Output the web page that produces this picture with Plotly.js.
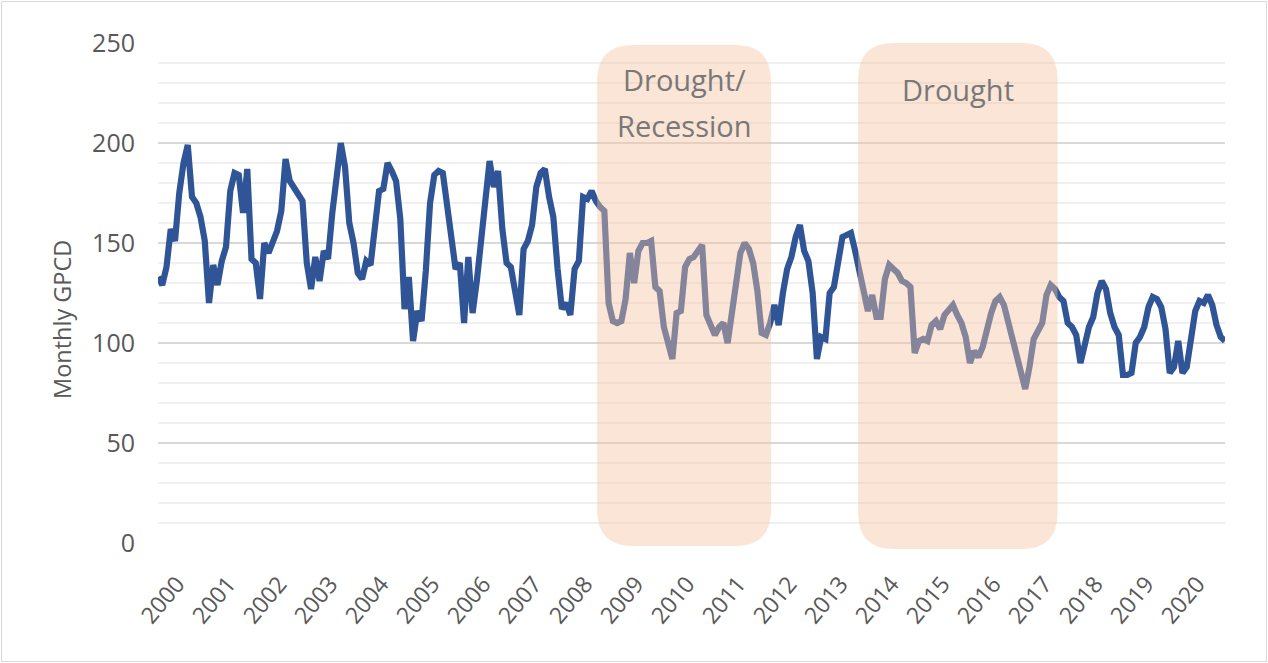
<!DOCTYPE html>
<html>
<head>
<meta charset="utf-8">
<script src="https://cdn.plot.ly/plotly-3.0.1.min.js"></script>
<style>
  html, body { margin: 0; padding: 0; background: #ffffff; }
  #wrap { position: relative; width: 1268px; height: 663px; }
  #chart { position: absolute; left: 0; top: 0; width: 1268px; height: 663px; }
  #frame { position: absolute; left: 1px; top: 1px; width: 1264px; height: 659px; border: 1px solid #d9d9d9; pointer-events: none; }
</style>
</head>
<body>
<div id="wrap"><div id="chart"></div><div id="frame"></div></div>
<script>
// Monthly GPCD, Jan..Dec of each year
const yearLabels = ["2000","2001","2002","2003","2004","2005","2006","2007","2008","2009","2010",
                    "2011","2012","2013","2014","2015","2016","2017","2018","2019","2020"];
const gpcd2000 = [133,129,138,157,151,175,190,199,173,170,163,151];
const gpcd2001 = [120,139,129,141,148,176,185,184,165,187,142,140];
const gpcd2002 = [122,150,145,151,156,166,192,181,178,175,171,140];
const gpcd2003 = [127,143,131,146,142,165,186,200,188,160,150,135];
const gpcd2004 = [132,141,139,161,176,177,190,186,181,162,117,133];
const gpcd2005 = [101,116,111,136,170,184,186,185,168,148,137,140];
const gpcd2006 = [110,143,115,131,151,175,191,178,186,157,140,138];
const gpcd2007 = [126,114,147,151,159,178,185,187,173,163,137,117];
const gpcd2008 = [120,114,137,141,173,172,176,171,168,166,120,111];
const gpcd2009 = [110,111,122,145,130,146,150,150,151,128,126,108];
const gpcd2010 = [100,92,115,116,138,142,143,146,149,114,108,104];
const gpcd2011 = [108,110,100,118,130,145,150,147,140,126,105,104];
const gpcd2012 = [110,119,109,125,137,143,153,159,146,141,125,92];
const gpcd2013 = [103,102,125,128,140,153,154,155,146,135,123,116];
const gpcd2014 = [124,113,113,132,139,137,135,131,130,128,95,101];
const gpcd2015 = [102,101,109,111,107,114,116,119,114,110,103,90];
const gpcd2016 = [96,93,98,108,115,121,123,119,110,104,94,85];
const gpcd2017 = [77,88,102,106,110,124,129,127,123,121,110,108];
const gpcd2018 = [104,90,101,108,113,125,131,127,115,108,104,84];
const gpcd2019 = [84,85,100,103,108,118,123,122,118,107,85,88];
const gpcd2020 = [101,85,88,104,116,121,120,124,119,109,103,101];

// Shaded periods (in month index from Jan 2000)
const periodLabels = [["Drought/", "Recession"], ["Drought"]];
const periodStart = [103.3, 164.7];
const periodEnd = [144.2, 211.6];

const values = [].concat(gpcd2000,gpcd2001,gpcd2002,gpcd2003,gpcd2004,gpcd2005,gpcd2006,
  gpcd2007,gpcd2008,gpcd2009,gpcd2010,gpcd2011,gpcd2012,gpcd2013,gpcd2014,gpcd2015,
  gpcd2016,gpcd2017,gpcd2018,gpcd2019,gpcd2020);
const xIdx = values.map((_, i) => i);

const W = 1268, H = 663;
const margin = {l: 158, r: 43, t: 43, b: 120};
const plotW = W - margin.l - margin.r;
const plotH = H - margin.t - margin.b;
const xMax = values.length - 1;
const pxPerMonth = plotW / xMax;
const pxToPaperY = py => (H - margin.b - py) / plotH;

function roundedRect(x0, x1, y0, y1, rx, ry) {
  return `M ${x0+rx},${y0} L ${x1-rx},${y0} Q ${x1},${y0} ${x1},${y0+ry} ` +
         `L ${x1},${y1-ry} Q ${x1},${y1} ${x1-rx},${y1} L ${x0+rx},${y1} ` +
         `Q ${x0},${y1} ${x0},${y1-ry} L ${x0},${y0+ry} Q ${x0},${y0} ${x0+rx},${y0} Z`;
}
const rPx = 36;
const rx = rPx / pxPerMonth, ry = rPx / plotH;
const bottoms = [-0.006, -0.012];
const tops = [0.996, 1.0];

const shapes = periodStart.map((s, i) => ({
  type: 'path', xref: 'x', yref: 'paper', layer: 'above',
  path: roundedRect(s, periodEnd[i], bottoms[i], tops[i], rx, ry),
  fillcolor: 'rgba(246,195,160,0.43)', line: {width: 0}
}));

// text line centres, in pixels from top
const linePx = [[80, 125], [90]];
const annotations = [];
periodLabels.forEach((lines, i) => {
  lines.forEach((t, j) => {
    annotations.push({
      text: t, x: (periodStart[i] + periodEnd[i]) / 2, y: pxToPaperY(linePx[i][j]),
      xref: 'x', yref: 'paper', showarrow: false, xanchor: 'center', yanchor: 'middle',
      font: {family: 'Open Sans, sans-serif', size: 29, color: '#787878'}
    });
  });
});
annotations.push({
  text: 'Monthly GPCD', textangle: -90, xref: 'paper', yref: 'paper',
  x: (62 - margin.l) / plotW, y: pxToPaperY(320), showarrow: false, xanchor: 'center', yanchor: 'middle',
  font: {family: 'Open Sans, sans-serif', size: 23.5, color: '#595959'}
});

const tickVals = yearLabels.map((_, i) => 4.5 + 12 * i);

const trace = {
  x: xIdx, y: values, type: 'scatter', mode: 'lines',
  line: {color: '#2f5597', width: 6.2, shape: 'linear'},
  hoverinfo: 'y'
};

const layout = {
  width: W, height: H, margin: margin,
  paper_bgcolor: '#ffffff', plot_bgcolor: '#ffffff',
  showlegend: false,
  xaxis: {
    range: [0, xMax], tickmode: 'array', tickvals: tickVals, ticktext: yearLabels,
    tickangle: -50, showgrid: false, zeroline: false, showline: false, ticks: '',
    ticklabelstandoff: 22,
    tickfont: {family: 'Open Sans, sans-serif', size: 23, color: '#595959'}
  },
  yaxis: {
    range: [0, 250], dtick: 50, tick0: 0, showgrid: true, gridcolor: '#d9d9d9', gridwidth: 2,
    zeroline: false, showline: false, ticks: '', ticklabelstandoff: 22,
    tickfont: {family: 'Open Sans, sans-serif', size: 25, color: '#595959'},
    minor: {dtick: 10, showgrid: true, gridcolor: '#f0f0f0', gridwidth: 2}
  },
  shapes: shapes,
  annotations: annotations
};

Plotly.newPlot('chart', [trace], layout, {displayModeBar: false, staticPlot: true});
</script>
</body>
</html>
